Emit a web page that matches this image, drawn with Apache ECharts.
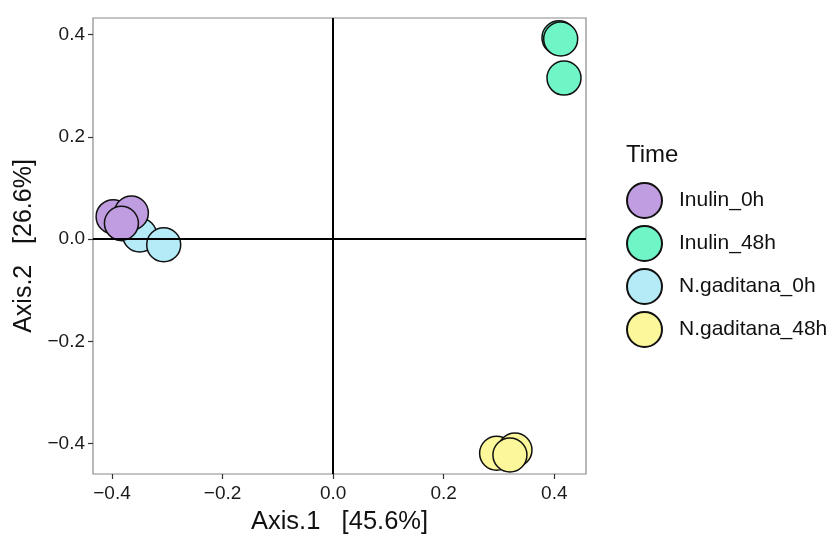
<!DOCTYPE html>
<html>
<head>
<meta charset="utf-8">
<script src="https://cdn.jsdelivr.net/npm/echarts@6/dist/echarts.min.js"></script>
<style>
html,body{margin:0;padding:0;background:#fff;}
#c{width:829px;height:534px;}
</style>
</head>
<body>
<div id="c"></div>
<script>
const groups = ["Inulin_0h", "Inulin_48h", "N.gaditana_0h", "N.gaditana_48h"];
const colors = ["#C09DE0", "#70F5C6", "#B4EBF7", "#FBF79A"];
const inulin0h = [[-0.398, 0.044], [-0.365, 0.051], [-0.383, 0.031]];
const inulin48h = [[0.4085, 0.394], [0.4116, 0.3914], [0.4176, 0.315]];
const ngaditana0h = [[-0.382, 0.030], [-0.350, 0.008], [-0.3065, -0.011]];
const ngaditana48h = [[0.2957, -0.4188], [0.3289, -0.4123], [0.3198, -0.422]];
const xTicks = [-0.4, -0.2, 0.0, 0.2, 0.4];
const yTicks = [-0.4, -0.2, 0.0, 0.2, 0.4];
const xTitle = "Axis.1   [45.6%]";
const yTitle = "Axis.2   [26.6%]";
const legendTitle = "Time";

const fmt = v => (v < 0 ? "\u2212" : "") + Math.abs(v).toFixed(1);
const font = "Liberation Sans";
const seriesData = [inulin0h, inulin48h, ngaditana0h, ngaditana48h];
const drawOrder = [2, 0, 1, 3];

const chart = echarts.init(document.getElementById('c'), null, {renderer: 'canvas'});
const series = [{
  type: 'scatter', name: '_zero', data: [], z: 1, silent: true,
  markLine: {
    silent: true, symbol: 'none', label: {show: false},
    lineStyle: {color: '#000', width: 2, type: 'solid'},
    emphasis: {disabled: true},
    data: [{xAxis: 0}, {yAxis: 0}]
  }
}];
drawOrder.forEach((gi, k) => {
  series.push({
    type: 'scatter', name: groups[gi], data: seriesData[gi], z: 3 + k,
    symbol: 'circle', symbolSize: 34,
    itemStyle: {color: colors[gi], borderColor: '#111', borderWidth: 1.5, opacity: 1}
  });
});

chart.setOption({
  animation: false,
  backgroundColor: '#fff',
  title: {
    text: legendTitle, left: 626, top: 143, padding: 0,
    textStyle: {fontFamily: font, fontSize: 24, fontWeight: 'normal', color: '#111'}
  },
  legend: {
    data: groups.map(g => ({name: g, icon: 'circle'})),
    orient: 'vertical', left: 626, top: 182, padding: 0,
    itemWidth: 35, itemHeight: 35, itemGap: 6,
    textStyle: {fontFamily: font, fontSize: 21, color: '#111', padding: [0, 0, 0, 12]}
  },
  grid: {left: 93, top: 18, right: 243, bottom: 60, containLabel: false, outerBoundsMode: 'none',
         show: true, borderColor: '#8a8a8a', borderWidth: 1.2, backgroundColor: '#fff'},
  xAxis: {
    type: 'value', min: -0.4344, max: 0.4574,
    name: xTitle, nameLocation: 'middle', nameGap: 35,
    nameTextStyle: {fontFamily: font, fontSize: 25.5, color: '#111'},
    axisLine: {show: false, onZero: false},
    splitLine: {show: false},
    axisTick: {show: true, length: 5, lineStyle: {color: '#333', width: 1.2}, customValues: xTicks},
    axisLabel: {customValues: xTicks, formatter: fmt, fontFamily: font, fontSize: 19, color: '#1a1a1a', margin: 10}
  },
  yAxis: {
    type: 'value', min: -0.4593, max: 0.4325,
    name: yTitle, nameLocation: 'middle', nameGap: 47,
    nameTextStyle: {fontFamily: font, fontSize: 25, color: '#111'},
    axisLine: {show: false, onZero: false},
    splitLine: {show: false},
    axisTick: {show: true, length: 5, lineStyle: {color: '#333', width: 1.2}, customValues: yTicks},
    axisLabel: {customValues: yTicks, formatter: fmt, fontFamily: font, fontSize: 19, color: '#1a1a1a', margin: 8}
  },
  series: series
});
</script>
</body>
</html>
